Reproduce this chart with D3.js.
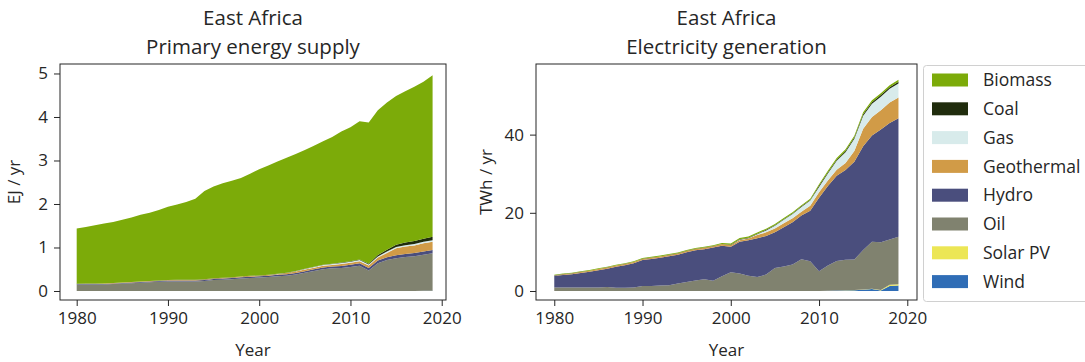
<!DOCTYPE html>
<html>
<head>
<meta charset="utf-8">
<script src="https://cdn.jsdelivr.net/npm/d3@7"></script>
<style>
  body { margin: 0; background: #fff; }
  svg { display: block; font-family: "Open Sans", "Noto Sans", sans-serif; }
  .tick text { fill: #262626; }
</style>
</head>
<body>
<svg id="chart" width="1085" height="362"></svg>
<script>
// --- data ---
const years = d3.range(1980, 2020);
const region = "East Africa";

// stack order, bottom to top; legend shows it reversed
const sources = ["Wind", "Solar PV", "Oil", "Hydro", "Geothermal", "Gas", "Coal", "Biomass"];
const colors = {
  "Biomass": "#7cab09", "Coal": "#202c0d", "Gas": "#d8ebeb", "Geothermal": "#d19b47",
  "Hydro": "#4a4e7d", "Oil": "#80826f", "Solar PV": "#ece655", "Wind": "#2f6db6"
};

// Primary energy supply, EJ / yr
const pesBiomass = [1.27,1.30,1.34,1.38,1.40,1.44,1.48,1.53,1.57,1.62,
                    1.68,1.73,1.79,1.86,2.03,2.11,2.17,2.22,2.26,2.35,
                    2.44,2.51,2.58,2.64,2.69,2.73,2.78,2.84,2.91,3.01,
                    3.08,3.18,3.25,3.33,3.39,3.42,3.48,3.55,3.61,3.71];
const pesCoal = [0.004,0.004,0.004,0.004,0.004,0.004,0.004,0.004,0.004,0.004,
                 0.005,0.005,0.005,0.005,0.005,0.005,0.005,0.005,0.005,0.005,
                 0.006,0.006,0.006,0.006,0.007,0.008,0.008,0.009,0.010,0.011,
                 0.012,0.013,0.015,0.030,0.040,0.050,0.060,0.065,0.070,0.080];
const pesGas = [0,0,0,0,0,0,0,0,0,0, 0,0,0,0,0,0,0,0,0,0,
                0,0.002,0.002,0.004,0.008,0.012,0.015,0.017,0.018,0.020,
                0.022,0.024,0.026,0.028,0.030,0.032,0.033,0.034,0.034,0.035];
const pesGeothermal = [0.002,0.007,0.007,0.009,0.009,0.011,0.011,0.011,0.011,0.011,
                       0.011,0.011,0.011,0.011,0.011,0.013,0.013,0.013,0.013,0.014,
                       0.014,0.014,0.014,0.029,0.032,0.036,0.036,0.036,0.036,0.047,
                       0.050,0.050,0.054,0.065,0.101,0.162,0.169,0.176,0.187,0.191];
const pesHydro = [0.010,0.010,0.011,0.011,0.012,0.013,0.014,0.015,0.016,0.017,
                  0.019,0.020,0.021,0.022,0.023,0.025,0.026,0.027,0.028,0.029,
                  0.028,0.031,0.032,0.033,0.034,0.036,0.039,0.042,0.044,0.046,
                  0.052,0.056,0.060,0.062,0.064,0.068,0.070,0.071,0.073,0.075];
const pesOil = [0.15,0.15,0.15,0.15,0.16,0.17,0.18,0.19,0.20,0.21,
                0.22,0.22,0.22,0.22,0.23,0.25,0.26,0.27,0.29,0.30,
                0.31,0.32,0.34,0.35,0.38,0.42,0.46,0.50,0.52,0.53,
                0.55,0.58,0.47,0.64,0.71,0.75,0.78,0.80,0.83,0.86];
const pesSolar = [0,0,0,0,0,0,0,0,0,0, 0,0,0,0,0,0,0,0,0,0,
                  0,0,0,0,0,0,0,0,0,0, 0,0,0,0.0001,0.0001,0.0002,0.0003,0.0004,0.001,0.0013];
const pesWind = [0,0,0,0,0,0,0,0,0,0, 0,0,0,0,0,0,0,0,0,0,
                 0,0,0,0,0,0,0,0,0,0.0001, 0.0001,0.0001,0.0004,0.0005,0.0007,0.0013,0.0018,0.0005,0.0047,0.005];

// Electricity generation, TWh / yr
const elBiomass = [0.15,0.15,0.15,0.15,0.15,0.15,0.15,0.15,0.15,0.15,
                   0.2,0.2,0.2,0.2,0.2,0.2,0.2,0.2,0.2,0.2,
                   0.3,0.3,0.3,0.3,0.3,0.3,0.3,0.3,0.3,0.3,
                   0.4,0.4,0.4,0.45,0.45,0.5,0.5,0.5,0.5,0.5];
const elCoal = [0.05,0.05,0.05,0.05,0.05,0.05,0.05,0.05,0.05,0.05,
                0.05,0.05,0.05,0.05,0.05,0.05,0.05,0.05,0.05,0.05,
                0.15,0.15,0.15,0.15,0.15,0.15,0.15,0.15,0.15,0.15,
                0.3,0.3,0.3,0.35,0.35,0.4,0.4,0.4,0.4,0.4];
const elGas = [0,0,0,0,0,0,0,0,0,0, 0,0,0,0,0,0,0,0,0,0, 0,
               0.1,0.1,0.2,0.5,0.7,0.9,1.1,1.2,1.3,
               1.4,1.8,2.3,2.7,3.1,3.3,3.4,3.5,3.5,3.6];
const elGeothermal = [0.05,0.2,0.2,0.25,0.25,0.3,0.3,0.3,0.3,0.3,
                      0.3,0.3,0.3,0.3,0.3,0.35,0.35,0.35,0.35,0.4,
                      0.4,0.4,0.4,0.8,0.9,1.0,1.0,1.0,1.0,1.3,
                      1.4,1.4,1.5,1.8,2.8,4.5,4.7,4.9,5.2,5.3];
const elHydro = [3.0,3.2,3.4,3.7,4.0,4.4,4.7,5.35,5.75,6.2,
                 6.6,6.9,7.1,7.4,7.4,7.6,7.7,7.7,8.5,7.8,
                 6.5,8.1,9.1,9.9,9.9,9.1,10.0,10.8,11.2,12.9,
                 18.8,20.3,21.8,23.0,25.0,26.5,27.2,28.85,29.8,30.35];
const elOil = [0.9,0.9,0.9,0.9,0.9,0.9,1.0,0.85,0.85,0.9,
               1.3,1.3,1.4,1.5,1.9,2.3,2.7,3.0,2.6,3.8,
               4.8,4.5,3.9,3.6,4.2,5.9,6.3,6.8,8.1,7.6,
               5.0,6.5,7.6,7.8,7.8,10.1,12.0,12.2,11.6,12.1];
const elSolar = [0,0,0,0,0,0,0,0,0,0, 0,0,0,0,0,0,0,0,0,0,
                 0,0,0,0,0,0,0,0,0,0, 0,0,0,0.02,0.03,0.05,0.08,0.1,0.3,0.35];
const elWind = [0,0,0,0,0,0,0,0,0,0, 0,0,0,0,0,0,0,0,0,0,
                0,0,0,0,0,0,0,0,0,0.02, 0.03,0.04,0.1,0.15,0.2,0.35,0.5,0.15,1.3,1.4];

const pesTicks = [0, 1, 2, 3, 4, 5];
const elTicks = [0, 20, 40];
const yearTicks = [1980, 1990, 2000, 2010, 2020];

function rows(series) {
  return years.map((y, i) => {
    const r = { year: y };
    sources.forEach(k => r[k] = series[k][i]);
    return r;
  });
}

const pesRows = rows({ "Biomass": pesBiomass, "Coal": pesCoal, "Gas": pesGas, "Geothermal": pesGeothermal,
  "Hydro": pesHydro, "Oil": pesOil, "Solar PV": pesSolar, "Wind": pesWind });
const elRows = rows({ "Biomass": elBiomass, "Coal": elCoal, "Gas": elGas, "Geothermal": elGeothermal,
  "Hydro": elHydro, "Oil": elOil, "Solar PV": elSolar, "Wind": elWind });

const svg = d3.select("#chart");

function panel(opt) {
  const { left, right, top, bottom } = opt.box;
  const x = d3.scaleLinear().domain(opt.xDomain).range([left, right]);
  const y = d3.scaleLinear().domain(opt.yDomain).range([bottom, top]);
  const g = svg.append("g");

  const stacked = d3.stack().keys(sources)(opt.data);
  const area = d3.area()
      .x(d => x(d.data.year))
      .y0(d => y(d[0]))
      .y1(d => y(d[1]));

  g.append("g").selectAll("path")
    .data(stacked)
    .join("path")
      .attr("d", area)
      .attr("fill", d => colors[d.key]);

  // frame
  g.append("rect")
      .attr("x", left).attr("y", top)
      .attr("width", right - left).attr("height", bottom - top)
      .attr("fill", "none").attr("stroke", "#262626").attr("stroke-width", 1);

  const xAxis = g.append("g")
      .attr("transform", `translate(0,${bottom})`)
      .call(d3.axisBottom(x).tickValues(yearTicks).tickFormat(d3.format("d")).tickSize(6).tickPadding(6));
  const yAxis = g.append("g")
      .attr("transform", `translate(${left},0)`)
      .call(d3.axisLeft(y).tickValues(opt.yTicks).tickFormat(d3.format("d")).tickSize(6).tickPadding(6));
  [xAxis, yAxis].forEach(a => {
    a.select(".domain").remove();
    a.selectAll(".tick line").attr("stroke", "#262626");
    a.selectAll(".tick text").style("font-size", "17px").style("font-family", "Open Sans");
  });

  const cx = (left + right) / 2;
  const title = g.append("text")
      .attr("x", cx).attr("text-anchor", "middle")
      .style("font-size", "20.5px").attr("fill", "#262626");
  title.append("tspan").attr("x", cx).attr("y", 25).text(region);
  title.append("tspan").attr("x", cx).attr("y", 54).text(opt.title);

  g.append("text")
      .attr("x", cx).attr("y", 356)
      .attr("text-anchor", "middle")
      .style("font-size", "17px").attr("fill", "#262626")
      .text("Year");

  g.append("text")
      .attr("transform", `translate(${opt.yLabelX},${(top + bottom) / 2}) rotate(-90)`)
      .attr("text-anchor", "middle")
      .style("font-size", "17px").attr("fill", "#262626")
      .text(opt.yLabel);
}

panel({
  box: { left: 60, right: 446, top: 64, bottom: 300 },
  xDomain: [1978.17, 2020.47],
  yDomain: [-0.207, 5.218],
  yTicks: pesTicks,
  data: pesRows,
  title: "Primary energy supply",
  yLabel: "EJ / yr",
  yLabelX: 20
});

panel({
  box: { left: 536, right: 917, top: 64, bottom: 300 },
  xDomain: [1977.93, 2021.1],
  yDomain: [-2.3, 58.06],
  yTicks: elTicks,
  data: elRows,
  title: "Electricity generation",
  yLabel: "TWh / yr",
  yLabelX: 492
});

// legend (top of stack first)
const legend = svg.append("g");
legend.append("rect")
    .attr("x", 923.5).attr("y", 65.5)
    .attr("width", 175).attr("height", 236)
    .attr("rx", 3)
    .attr("fill", "#fff").attr("stroke", "#d0d0d0");
const legendOrder = sources.slice().reverse();
const entry = legend.selectAll("g.entry")
  .data(legendOrder)
  .join("g")
    .attr("class", "entry")
    .attr("transform", (d, i) => `translate(0,${80 + i * 28.8})`);
entry.append("rect")
    .attr("x", 932).attr("y", -6.5)
    .attr("width", 36).attr("height", 13)
    .attr("fill", d => colors[d]);
entry.append("text")
    .attr("x", 983).attr("y", 0)
    .attr("dy", "0.35em")
    .style("font-size", "17.5px").attr("fill", "#262626")
    .text(d => d);
</script>
</body>
</html>
